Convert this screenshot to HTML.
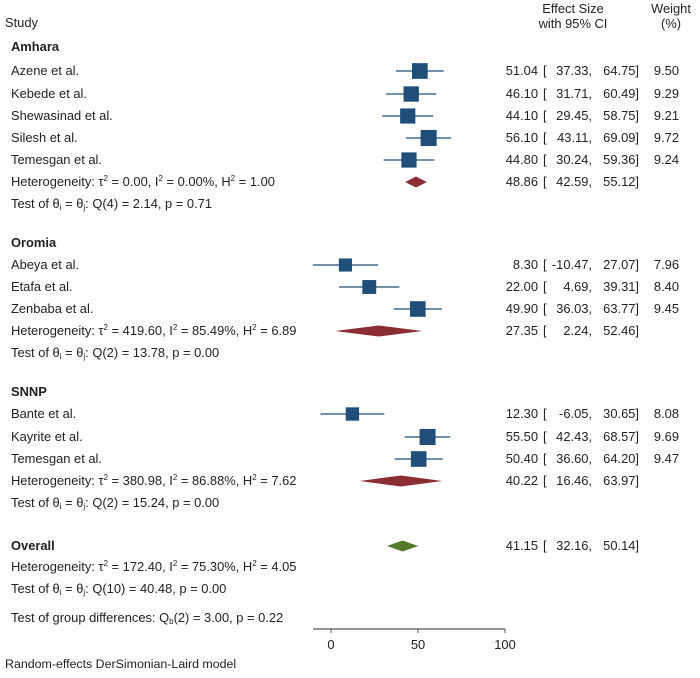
<!DOCTYPE html>
<html><head><meta charset="utf-8"><style>
body{margin:0;background:#fff;}
svg text{font-family:"Liberation Sans",Arial,sans-serif;font-size:12.9px;fill:#222;}
.b{font-weight:bold;}
</style></head><body>
<svg id="plot" width="700" height="673" viewBox="0 0 700 673">
<text x="5" y="27">Study</text>
<text x="573" y="13" text-anchor="middle">Effect Size</text>
<text x="573" y="28" text-anchor="middle">with 95% CI</text>
<text x="671" y="13" text-anchor="middle">Weight</text>
<text x="671" y="28" text-anchor="middle">(%)</text>
<g id="rows"></g>
<line x1="313" y1="629" x2="505" y2="629" stroke="#555" stroke-width="1.2"/>
<g id="ticks"></g>
<text x="5" y="668" style="font-size:12.4px">Random-effects DerSimonian-Laird model</text>
</svg>
<script>
const studyNames=["Azene et al.","Kebede et al.","Shewasinad et al.","Silesh et al.","Temesgan et al.","Abeya et al.","Etafa et al.","Zenbaba et al.","Bante et al.","Kayrite et al.","Temesgan et al."];
const studyES=[51.04,46.10,44.10,56.10,44.80,8.30,22.00,49.90,12.30,55.50,50.40];
const studyLo=[37.33,31.71,29.45,43.11,30.24,-10.47,4.69,36.03,-6.05,42.43,36.60];
const studyHi=[64.75,60.49,58.75,69.09,59.36,27.07,39.31,63.77,30.65,68.57,64.20];
const studyW=[9.50,9.29,9.21,9.72,9.24,7.96,8.40,9.45,8.08,9.69,9.47];
const studyY=[71,94,116,138,160,265,287,309,414,437,459];
const poolNames=["Amhara","Oromia","SNNP","Overall"];
const poolES=[48.86,27.35,40.22,41.15];
const poolLo=[42.59,2.24,16.46,32.16];
const poolHi=[55.12,52.46,63.97,50.14];
const poolY=[182,331,481,546];
const ticks=[0,50,100];
const X=v=>331+v*1.74;
const NS="http://www.w3.org/2000/svg";
const rows=document.getElementById('rows');
function el(tag,attrs,txt,parent){const e=document.createElementNS(NS,tag);for(const k in attrs)e.setAttribute(k,attrs[k]);if(txt!=null)e.textContent=txt;(parent||rows).appendChild(e);return e;}
function nums(es,lo,hi,y,w){
 let t=el('text',{x:538,y:y+4,'text-anchor':'end'},es.toFixed(2));
 
 
 t=el('text',{x:543,y:y+4},'[');
 
 
 t=el('text',{x:592,y:y+4,'text-anchor':'end'},lo.toFixed(2)+',');
 
 
 t=el('text',{x:639,y:y+4,'text-anchor':'end'},hi.toFixed(2)+']');
 
 
 if(w!=null){t=el('text',{x:679,y:y+4,'text-anchor':'end'},w.toFixed(2));
 
 }
}
studyNames.forEach((n,i)=>{
 const y=studyY[i];
 let t=el('text',{x:11,y:y+4},n);
 
 
 let l=el('line',{x1:X(studyLo[i]),x2:X(studyHi[i]),y1:y,y2:y,stroke:'#1f4e79','stroke-width':1.3});
 
 
 const s=studyW[i]*1.65;
 let r=el('rect',{x:X(studyES[i])-s/2,y:y-s/2,width:s,height:s,fill:'#1f4e79'});
 
 
 nums(studyES[i],studyLo[i],studyHi[i],y,studyW[i]);
});
poolNames.forEach((n,i)=>{
 const y=poolY[i];
 const c=i==3?'#557a2d':'#8b2d35';
 let p=el('polygon',{points:`${X(poolLo[i])},${y} ${X(poolES[i])},${y-5.5} ${X(poolHi[i])},${y} ${X(poolES[i])},${y+5.5}`,fill:c});
 
 
 nums(poolES[i],poolLo[i],poolHi[i],y,null);
});
ticks.forEach(v=>{
 let l=el('line',{x1:X(v),x2:X(v),y1:629,y2:633,stroke:'#555'},null,document.getElementById('ticks'));
 
 
 let t=el('text',{x:X(v),y:649,'text-anchor':'middle'},String(v),document.getElementById('ticks'));
 
 
});
const labels=[
 [11,51,'Amhara','b','group-label'],
 [11,186,'Heterogeneity: τ<tspan dy="-5" font-size="8">2</tspan><tspan dy="5"> = 0.00, I</tspan><tspan dy="-5" font-size="8">2</tspan><tspan dy="5"> = 0.00%, H</tspan><tspan dy="-5" font-size="8">2</tspan><tspan dy="5"> = 1.00</tspan>','', 'heterogeneity-stats'],
 [11,208,'Test of θ<tspan font-size="8" dy="2">i</tspan><tspan dy="-2"> = θ</tspan><tspan font-size="8" dy="2">j</tspan><tspan dy="-2">: Q(4) = 2.14, p = 0.71</tspan>','','homogeneity-test'],
 [11,247,'Oromia','b','group-label'],
 [11,335,'Heterogeneity: τ<tspan dy="-5" font-size="8">2</tspan><tspan dy="5"> = 419.60, I</tspan><tspan dy="-5" font-size="8">2</tspan><tspan dy="5"> = 85.49%, H</tspan><tspan dy="-5" font-size="8">2</tspan><tspan dy="5"> = 6.89</tspan>','','heterogeneity-stats'],
 [11,357,'Test of θ<tspan font-size="8" dy="2">i</tspan><tspan dy="-2"> = θ</tspan><tspan font-size="8" dy="2">j</tspan><tspan dy="-2">: Q(2) = 13.78, p = 0.00</tspan>','','homogeneity-test'],
 [11,396,'SNNP','b','group-label'],
 [11,485,'Heterogeneity: τ<tspan dy="-5" font-size="8">2</tspan><tspan dy="5"> = 380.98, I</tspan><tspan dy="-5" font-size="8">2</tspan><tspan dy="5"> = 86.88%, H</tspan><tspan dy="-5" font-size="8">2</tspan><tspan dy="5"> = 7.62</tspan>','','heterogeneity-stats'],
 [11,507,'Test of θ<tspan font-size="8" dy="2">i</tspan><tspan dy="-2"> = θ</tspan><tspan font-size="8" dy="2">j</tspan><tspan dy="-2">: Q(2) = 15.24, p = 0.00</tspan>','','homogeneity-test'],
 [11,550,'Overall','b','overall-label'],
 [11,571,'Heterogeneity: τ<tspan dy="-5" font-size="8">2</tspan><tspan dy="5"> = 172.40, I</tspan><tspan dy="-5" font-size="8">2</tspan><tspan dy="5"> = 75.30%, H</tspan><tspan dy="-5" font-size="8">2</tspan><tspan dy="5"> = 4.05</tspan>','','heterogeneity-stats'],
 [11,593,'Test of θ<tspan font-size="8" dy="2">i</tspan><tspan dy="-2"> = θ</tspan><tspan font-size="8" dy="2">j</tspan><tspan dy="-2">: Q(10) = 40.48, p = 0.00</tspan>','','homogeneity-test'],
 [11,622,'Test of group differences: Q<tspan font-size="8" dy="2">b</tspan><tspan dy="-2">(2) = 3.00, p = 0.22</tspan>','','group-difference-test']
];
labels.forEach(a=>{
 const t=el('text',{x:a[0],y:a[1]});
 if(a[3])t.setAttribute('class',a[3]);
 t.innerHTML=a[2];
 
 
});
</script>
</body></html>
